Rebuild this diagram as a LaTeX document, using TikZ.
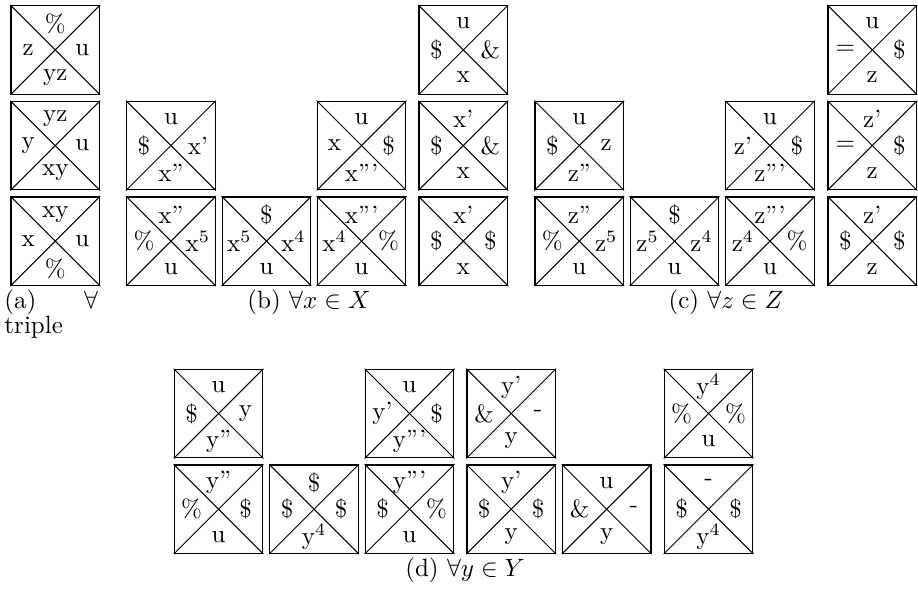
\documentclass[tikz,border=0pt]{standalone}
\usetikzlibrary{positioning}

\tikzset{
  quadsq/.style={draw, line width=0.5pt, minimum width=35.4pt, minimum height=35.4pt, inner sep=0pt},
  quaddiag/.style={line width=0.4pt},
  quadlbl/.style={inner sep=0pt, font=\normalsize},
  caplbl/.style={inner sep=0pt, anchor=base}
}

% \qbox{name}{left x}{top y}{top label}{left label}{right label}{bottom label}
\newcommand\qbox[7]{%
  \node[quadsq] (#1) at (#2+44.25,#3+44.25) {};
  \draw[quaddiag] (#1.north west) -- (#1.south east);
  \draw[quaddiag] (#1.south west) -- (#1.north east);
  \node[quadlbl] (#1-t) at ([yshift=10.6pt]#1.center) {#4};
  \node[quadlbl] (#1-l) at ([xshift=-10.8pt]#1.center) {#5};
  \node[quadlbl] (#1-r) at ([xshift=10.8pt]#1.center) {#6};
  \node[quadlbl] (#1-b) at ([yshift=-11.0pt]#1.center) {#7};
}

\begin{document}
\begin{tikzpicture}[x=0.4pt,y=-0.4pt]
\useasboundingbox (0,0) rectangle (918,593);

% (a)
\qbox{a1}{11}{5.7}{\%}{z}{u}{yz}
\qbox{a2}{11}{101.3}{yz}{y}{u}{xy}
\qbox{a3}{11}{196.9}{xy}{x}{u}{\%}

% (b)
\qbox{b12}{126.7}{101.3}{u}{\$}{x'}{x''}
\qbox{b13}{126.7}{196.9}{x''}{\%}{x$^5$}{u}
\qbox{b23}{222.2}{196.9}{\$}{x$^5$}{x$^4$}{u}
\qbox{b32}{317.3}{101.3}{u}{x}{\$}{x'''}
\qbox{b33}{317.3}{196.9}{x'''}{x$^4$}{\%}{u}
\qbox{b41}{419}{5.7}{u}{\$}{\&}{x}
\qbox{b42}{419}{101.3}{x'}{\$}{\&}{x}
\qbox{b43}{419}{196.9}{x'}{\$}{\$}{x}

% (c)
\qbox{c12}{535}{101.3}{u}{\$}{z}{z''}
\qbox{c13}{535}{196.9}{z''}{\%}{z$^5$}{u}
\qbox{c23}{630.3}{196.9}{\$}{z$^5$}{z$^4$}{u}
\qbox{c32}{725.7}{101.3}{u}{z'}{\$}{z'''}
\qbox{c33}{725.7}{196.9}{z'''}{z$^4$}{\%}{u}
\qbox{c41}{828}{5.7}{u}{=}{\$}{z}
\qbox{c42}{828}{101.3}{z'}{=}{\$}{z}
\qbox{c43}{828}{196.9}{z'}{\$}{\$}{z}

% (d)
\qbox{d11}{174.3}{369.3}{u}{\$}{y}{y''}
\qbox{d12}{174.3}{464.9}{y''}{\%}{\$}{u}
\qbox{d22}{269.8}{464.9}{\$}{\$}{\$}{y$^4$}
\qbox{d31}{365.3}{369.3}{u}{y'}{\$}{y'''}
\qbox{d32}{365.3}{464.9}{y'''}{\$}{\%}{u}
\qbox{d41}{466.9}{369.3}{y'}{\&}{-}{y}
\qbox{d42}{466.9}{464.9}{y'}{\$}{\$}{y}
\qbox{d52}{562.4}{464.9}{u}{\&}{-}{y}
\qbox{d61}{664.3}{369.3}{y$^4$}{\%}{\%}{u}
\qbox{d62}{664.3}{464.9}{-}{\$}{\$}{y$^4$}

% captions
\node[caplbl, anchor=base west] (capa) at (4,308) {(a)};
\node[caplbl] (capa-forall) at (91,308) {$\forall$};
\node[caplbl, anchor=base west] (capa-word) at (4,333) {triple};
\node[caplbl] (capb) at (309,308) {(b) $\forall x \in X$};
\node[caplbl] (capc) at (726,308) {(c) $\forall z \in Z$};
\node[caplbl] (capd) at (465,576) {(d) $\forall y \in Y$};
\end{tikzpicture}
\end{document}
